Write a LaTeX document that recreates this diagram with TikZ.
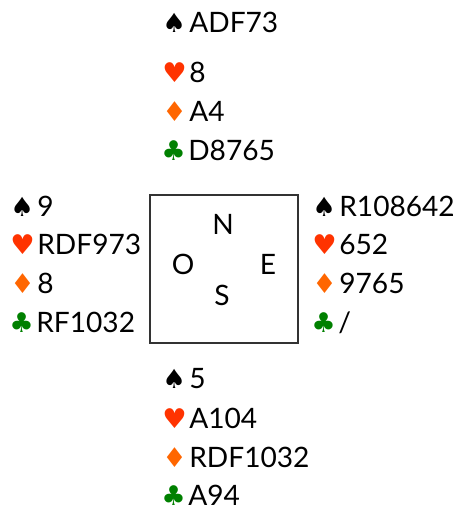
\documentclass[tikz,border=0pt]{standalone}
\usepackage{fontspec}
\setmainfont{Lato}
\newfontfamily\suitfont{DejaVu Sans}
\usepackage{tikz}
\usetikzlibrary{positioning}

\definecolor{heartred}{RGB}{255,51,0}
\definecolor{diamondorange}{RGB}{255,102,0}
\definecolor{clubgreen}{RGB}{0,128,0}

\newcommand{\suitS}{\makebox[0.54cm][l]{\suitfont\fontsize{15}{18}\selectfont\char"2660}}
\newcommand{\suitH}{\makebox[0.54cm][l]{\textcolor{heartred}{\suitfont\fontsize{15.5}{18}\selectfont\char"2665}}}
\newcommand{\suitD}{\makebox[0.54cm][l]{\textcolor{diamondorange}{\suitfont\fontsize{15.5}{18}\selectfont\char"2666}}}
\newcommand{\suitC}{\makebox[0.54cm][l]{\textcolor{clubgreen}{\suitfont\fontsize{15.5}{18}\selectfont\char"2663}}}

\begin{document}
\begin{tikzpicture}[x=0.02cm,y=-0.02cm,
	hand/.style={anchor=base west,inner sep=0pt,font=\fontsize{16}{18}\selectfont},
	wind/.style={inner sep=0pt,font=\fontsize{16}{18}\selectfont}]
		\useasboundingbox (0,0) rectangle (454,511);
		% table
		\draw[black!80,line width=0.6pt] (150,195) rectangle (298,343);
		\node[wind] (wN) at (223,224) {N}; \node[wind] (wO) at (183,264) {O}; \node[wind] (wE) at (268,264) {E}; \node[wind] (wS) at (222,295) {S};
		% north
		\node[hand] (n1) at (162,32) {\suitS ADF73}; \node[hand] (n2) at (162,82) {\suitH 8}; \node[hand] (n3) at (162,121) {\suitD A4}; \node[hand] (n4) at (161,160) {\suitC D8765};
		% west
		\node[hand] (o1) at (10,216) {\suitS 9}; \node[hand] (o2) at (10,254) {\suitH RDF973}; \node[hand] (o3) at (10,293) {\suitD 8}; \node[hand] (o4) at (9,332) {\suitC RF1032};
		% east
		\node[hand] (e1) at (312,216) {\suitS R108642}; \node[hand] (e2) at (312,254) {\suitH 652}; \node[hand] (e3) at (312,293) {\suitD 9765}; \node[hand] (e4) at (311,332) {\suitC /};
		% south
		\node[hand] (s1) at (162,388) {\suitS 5}; \node[hand] (s2) at (162,428) {\suitH A104}; \node[hand] (s3) at (162,467) {\suitD RDF1032}; \node[hand] (s4) at (161,505) {\suitC A94};
\end{tikzpicture}
\end{document}
